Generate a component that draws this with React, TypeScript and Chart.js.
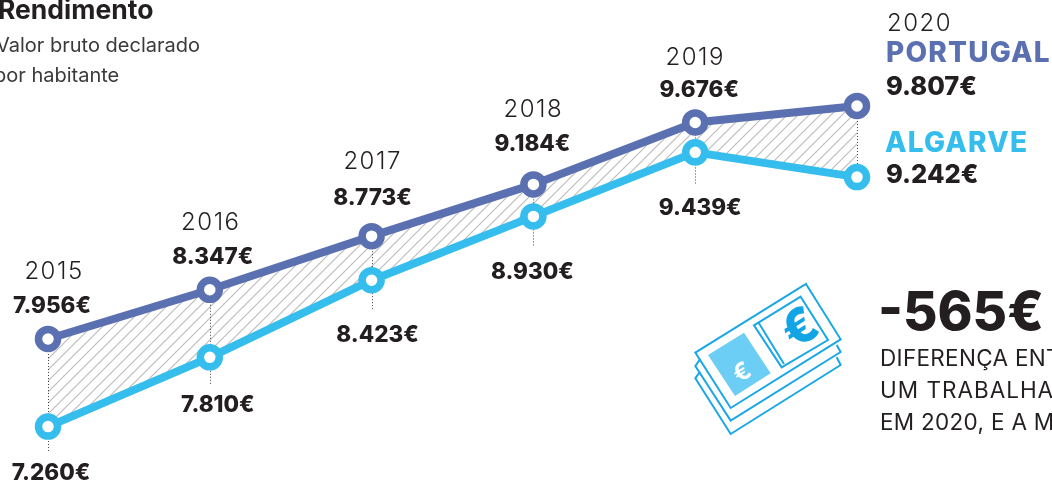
import React, { useEffect, useRef } from "react";
import { Chart, registerables } from "chart.js";

Chart.register(...registerables);

const years = [2015, 2016, 2017, 2018, 2019, 2020];
const portugal = [7956, 8347, 8773, 9184, 9676, 9807];
const algarve = [7260, 7810, 8423, 8930, 9439, 9242];

const BLUE = "#5b70b0";
const CYAN = "#35bdee";
const INK = "#231f20";
const FONT = "Inter, sans-serif";

const yearDx = [6, 1, 1, 0, 0];
const yearDy = [-60, -60, -67, -67, -57];
const topDx = [4, 3, 1, -1, 4];
const topDy = [-26, -26, -31, -33, -25];
const botDx = [3, 8, 6, -1, 5];
const botDy = [53, 55, 62, 63, 63];
const stemBelow = [26, 28, 29, 31, 32, 0];

const euro = (v: number) =>
  `${Math.floor(v / 1000)}.${String(v % 1000).padStart(3, "0")}€`;

function hatch(): CanvasPattern | string {
  const c = document.createElement("canvas");
  c.width = 11;
  c.height = 11;
  const g = c.getContext("2d");
  if (!g) return "#ccc";
  g.strokeStyle = "#bdbdbd";
  g.lineWidth = 1.2;
  g.beginPath();
  g.moveTo(-2, 13);
  g.lineTo(13, -2);
  g.moveTo(-2, 2);
  g.lineTo(2, -2);
  g.moveTo(9, 13);
  g.lineTo(13, 9);
  g.stroke();
  return g.createPattern(c, "repeat") as CanvasPattern;
}

function put(
  g: CanvasRenderingContext2D,
  s: string,
  x: number,
  y: number,
  font: string,
  color: string,
  align: CanvasTextAlign = "left",
  spacing = 0
) {
  g.font = font;
  g.fillStyle = color;
  g.textAlign = align;
  g.textBaseline = "alphabetic";
  (g as any).letterSpacing = `${spacing}px`;
  g.fillText(s, x, y);
}

const stems = {
  id: "stems",
  beforeDatasetsDraw(chart: any) {
    const g = chart.ctx as CanvasRenderingContext2D;
    const { x, y } = chart.scales;
    g.save();
    g.strokeStyle = "#444";
    g.lineWidth = 1;
    g.setLineDash([1, 2]);
    years.forEach((yr, i) => {
      const px = Math.round(x.getPixelForValue(yr)) + 0.5;
      g.beginPath();
      g.moveTo(px, y.getPixelForValue(portugal[i]));
      g.lineTo(px, y.getPixelForValue(algarve[i]) + stemBelow[i]);
      g.stroke();
    });
    g.restore();
  },
};

const labels = {
  id: "labels",
  afterDatasetsDraw(chart: any) {
    const g = chart.ctx as CanvasRenderingContext2D;
    const { x, y } = chart.scales;
    g.save();
    const bold = `800 22.5px ${FONT}`;
    const thin = `300 24px ${FONT}`;
    years.slice(0, 5).forEach((yr, i) => {
      const px = x.getPixelForValue(yr);
      put(g, String(yr), px + yearDx[i], y.getPixelForValue(portugal[i]) + yearDy[i], thin, INK, "center", 1.5);
      put(g, euro(portugal[i]), px + topDx[i], y.getPixelForValue(portugal[i]) + topDy[i], bold, INK, "center", 0);
      put(g, euro(algarve[i]), px + botDx[i], y.getPixelForValue(algarve[i]) + botDy[i], bold, INK, "center", 0);
    });
    put(g, String(years[5]), 887, 31, thin, INK, "left", 1.5);
    put(g, "PORTUGAL", 886, 62, `800 28px ${FONT}`, BLUE, "left", 1.2);
    put(g, euro(portugal[5]), 886, 95, `800 25.5px ${FONT}`, INK, "left", 0);
    put(g, "ALGARVE", 885, 152, `800 28px ${FONT}`, CYAN, "left", 1.2);
    put(g, euro(algarve[5]), 886, 183, `800 25.5px ${FONT}`, INK, "left", 0);

    put(g, "Rendimento", -2, 19, `700 26.5px ${FONT}`, INK, "left", 0);
    put(g, "Valor bruto declarado", -4, 52, `400 20px ${FONT}`, "#3a3a3a", "left", 0);
    put(g, "por habitante", -6, 82, `400 20px ${FONT}`, "#3a3a3a", "left", 0);

    put(g, "-565€", 878, 330, `800 53px ${FONT}`, INK, "left", 0);
    put(g, "DIFERENÇA ENT", 880, 366, `400 22.5px ${FONT}`, INK, "left", 0.3);
    put(g, "UM TRABALHA", 880, 398, `400 22.5px ${FONT}`, INK, "left", 1);
    put(g, "EM 2020, E A M", 880, 430, `400 22.5px ${FONT}`, INK, "left", 0.3);
    g.restore();
  },
};

function Notes() {
  const stroke = "#19a7e5";
  return (
    <svg
      width={1052}
      height={484}
      style={{ position: "absolute", left: 0, top: 0, pointerEvents: "none" }}
    >
      <g transform="translate(680 270) scale(0.3333)" fill="none" stroke={stroke} strokeWidth={6}>
        <path d="M60 305 L46 325 L152 492 L482 285 L470 262" />
        <path d="M60 268 L46 288 L152 452 L482 246 L470 225" />
        <path d="M378 42 L482 208 L152 414 L46 248 Z" />
        <path d="M192 188 L272 310 L165 378 L84 255 Z" fill="#6ccdf5" stroke="none" />
        <path d="M362 80 L444 210 L305 292 L222 166 Z" />
        <path d="M236 158 L312 282" />
        <g transform="rotate(-32 358 170)">
          <text x={358} y={222} textAnchor="middle" fontFamily={FONT} fontWeight={800} fontSize={145} fill="#12a5e5" stroke="none">€</text>
        </g>
        <g transform="rotate(-32 185 305)">
          <text x={185} y={331} textAnchor="middle" fontFamily={FONT} fontWeight={700} fontSize={72} fill="#fff" stroke="none">€</text>
        </g>
      </g>
    </svg>
  );
}

export default function App() {
  const ref = useRef<HTMLCanvasElement>(null);
  useEffect(() => {
    if (!ref.current) return;
    const pts = (vals: number[]) => years.map((yr, i) => ({ x: yr, y: vals[i] }));
    const common = {
      tension: 0,
      borderWidth: 8,
      pointRadius: 9.5,
      pointBorderWidth: 7.5,
      pointBackgroundColor: "#fff",
    };
    const chart = new Chart(ref.current, {
      type: "line",
      data: {
        datasets: [
          {
            label: "Portugal",
            data: pts(portugal),
            borderColor: BLUE,
            pointBorderColor: BLUE,
            backgroundColor: hatch(),
            fill: "+1",
            ...common,
          },
          {
            label: "Algarve",
            data: pts(algarve),
            borderColor: CYAN,
            pointBorderColor: CYAN,
            fill: false,
            ...common,
          },
        ],
      },
      options: {
        animation: false,
        responsive: false,
        layout: { padding: 0, autoPadding: false },
        plugins: {
          legend: { display: false },
          tooltip: { enabled: false },
          title: { display: false },
          filler: { drawTime: "beforeDatasetsDraw" },
        },
        scales: {
          x: { type: "linear", bounds: "data", display: false, min: 2014.7033, max: 2021.2052 },
          y: { type: "linear", bounds: "data", display: false, min: 6804, max: 10649 },
        },
      },
      plugins: [stems, labels],
    } as any);
    return () => chart.destroy();
  }, []);
  return (
    <div style={{ position: "fixed", left: 0, top: 0, width: 1052, height: 484, overflow: "hidden", background: "#fff" }}>
      <canvas ref={ref} width={1052} height={484} style={{ display: "block" }} />
      <Notes />
    </div>
  );
}
